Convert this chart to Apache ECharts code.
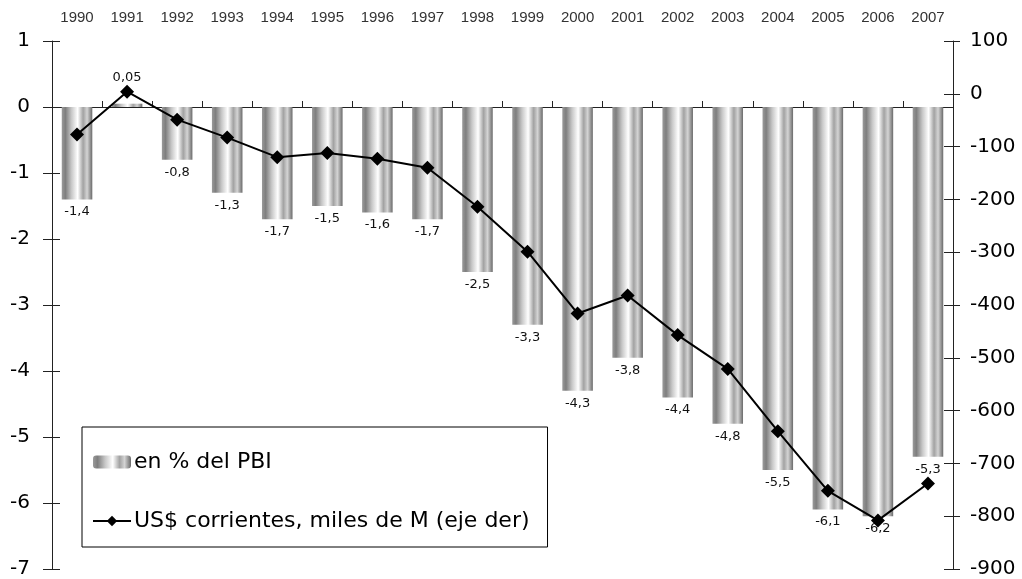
<!DOCTYPE html>
<html>
<head>
<meta charset="utf-8">
<script src="https://cdn.jsdelivr.net/npm/echarts@6/dist/echarts.min.js"></script>
<style>
  html, body { margin: 0; padding: 0; background: #fff; }
  #chart { width: 1022px; height: 579px; }
</style>
</head>
<body>
<div id="chart"></div>
<script>
const years = ['1990','1991','1992','1993','1994','1995','1996','1997','1998','1999','2000','2001','2002','2003','2004','2005','2006','2007'];
const pctPBI = [-1.4, 0.05, -0.8, -1.3, -1.7, -1.5, -1.6, -1.7, -2.5, -3.3, -4.3, -3.8, -4.4, -4.8, -5.5, -6.1, -6.2, -5.3];
const usdMiles = [-77, 4, -49, -83, -120, -112, -123, -140, -214, -299, -416, -382, -457, -521, -639, -752, -808, -738];
const leftTicks = { min: -7, max: 1, interval: 1 };
const rightTicks = { min: -900, max: 100, interval: 100 };
const nameBar = 'en % del PBI';
const nameLine = 'US$ corrientes, miles de M (eje der)';

const FONT = '"DejaVu Sans", "Noto Sans", sans-serif';
const AX = '#222';

const barGrad = new echarts.graphic.LinearGradient(0, 0, 1, 0, [
  { offset: 0, color: '#9a9a9a' },
  { offset: 0.12, color: '#7e7e7e' },
  { offset: 0.32, color: '#c8c8c8' },
  { offset: 0.52, color: '#ffffff' },
  { offset: 0.7, color: '#a2a2a2' },
  { offset: 0.83, color: '#d4d4d4' },
  { offset: 1, color: '#6a6a6a' }
]);

const fmt = v => String(v).replace('.', ',');

const barData = pctPBI.map(v => v >= 0
  ? { value: v, label: { position: 'top', distance: 20 } }
  : { value: v, label: { position: 'bottom', distance: 6 } });

const chart = echarts.init(document.getElementById('chart'), null, { renderer: 'canvas' });
chart.setOption({
  animation: false,
  backgroundColor: '#fff',
  grid: { left: 52, right: 69, top: 41, bottom: 10, containLabel: false },
  legend: {
    orient: 'vertical',
    left: 82, top: 427,
    backgroundColor: '#fff',
    borderColor: '#000', borderWidth: 1,
    padding: [24, 18, 15, 10],
    itemGap: 37,
    itemWidth: 38, itemHeight: 13,
    textStyle: { fontFamily: FONT, fontSize: 22, color: '#000', padding: [0, 0, 0, -2] },
    data: [nameBar, nameLine]
  },
  xAxis: [
    {
      type: 'category', data: years, position: 'bottom', boundaryGap: true,
      axisLine: { onZero: true, onZeroAxisIndex: 0, lineStyle: { color: AX, width: 1 } },
      axisTick: { show: true, inside: true, length: 6, lineStyle: { color: AX } },
      axisLabel: { show: false }
    },
    {
      type: 'category', data: years, position: 'top', boundaryGap: true,
      axisLine: { show: false, onZero: false },
      axisTick: { show: false },
      axisLabel: { show: true, margin: 16, fontFamily: '"Liberation Sans", Arial, sans-serif', fontSize: 15, color: '#333' }
    }
  ],
  yAxis: [
    {
      type: 'value', position: 'left', min: leftTicks.min, max: leftTicks.max, interval: leftTicks.interval,
      splitLine: { show: false },
      axisLine: { show: true, lineStyle: { color: AX } },
      axisTick: { show: true, length: 9, lineStyle: { color: AX } },
      axisLabel: { margin: 22, fontFamily: FONT, fontSize: 20, color: '#000' }
    },
    {
      type: 'value', position: 'right', min: rightTicks.min, max: rightTicks.max, interval: rightTicks.interval,
      splitLine: { show: false },
      axisLine: { show: true, lineStyle: { color: AX } },
      axisTick: { show: true, length: 7, lineStyle: { color: AX } },
      axisLabel: { margin: 17, fontFamily: FONT, fontSize: 20, color: '#000' }
    },
    {
      type: 'value', position: 'left', min: leftTicks.min, max: leftTicks.max, interval: leftTicks.interval,
      splitLine: { show: false }, axisLine: { show: false },
      axisTick: { show: true, inside: true, length: 8, lineStyle: { color: AX } },
      axisLabel: { show: false }
    },
    {
      type: 'value', position: 'right', min: rightTicks.min, max: rightTicks.max, interval: rightTicks.interval,
      splitLine: { show: false }, axisLine: { show: false },
      axisTick: { show: true, inside: true, length: 9, lineStyle: { color: AX } },
      axisLabel: { show: false }
    }
  ],
  series: [
    {
      name: nameBar, type: 'bar', xAxisIndex: 0, yAxisIndex: 0,
      data: barData,
      barWidth: '61%',
      itemStyle: { color: barGrad },
      label: {
        show: true, fontFamily: FONT, fontSize: 13, color: '#111',
        formatter: p => fmt(p.value)
      },
      z: 2
    },
    {
      name: nameLine, type: 'line', xAxisIndex: 0, yAxisIndex: 1,
      data: usdMiles,
      symbol: 'diamond', symbolSize: 14,
      lineStyle: { color: '#000', width: 2 },
      itemStyle: { color: '#000' },
      z: 5
    }
  ]
});
</script>
</body>
</html>
